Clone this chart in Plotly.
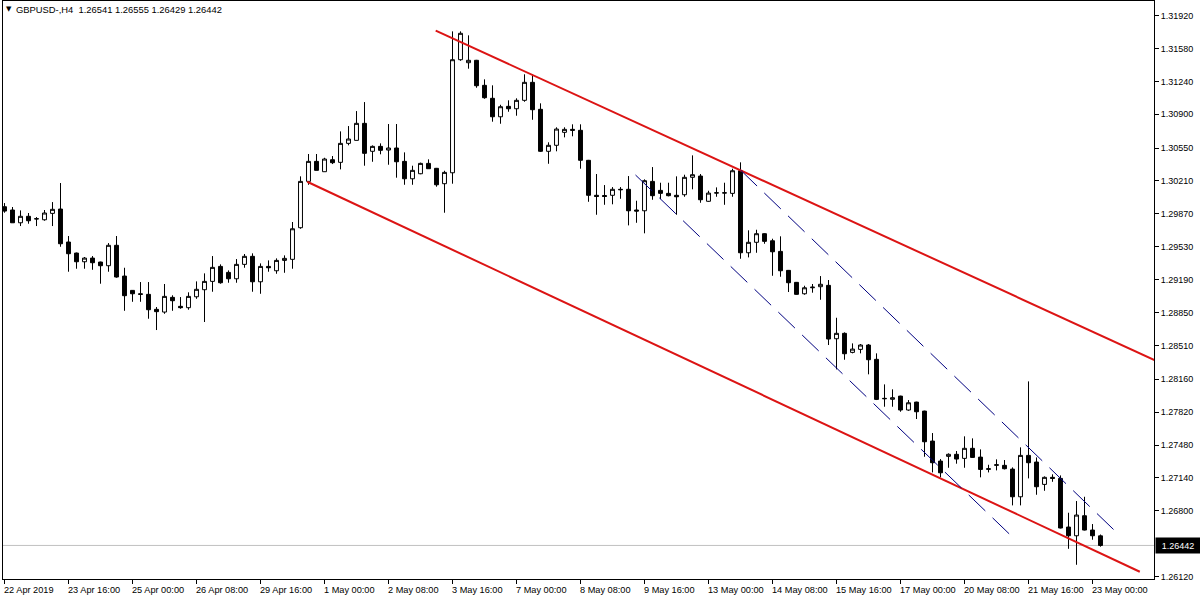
import plotly.graph_objects as go

# ---- H4 bars (bar index 0 = 22 Apr 2019 08:00) ----
bar_open = [
    1.29944, 1.29910, 1.29778, 1.29845, 1.29817, 1.29809, 1.29875, 1.29920, 1.29579, 1.29465,
    1.29375, 1.29413, 1.29372, 1.29334, 1.29545, 1.29227, 1.29079, 1.29044, 1.29038, 1.28883,
    1.28855, 1.29007, 1.28914, 1.28900, 1.29013, 1.29086, 1.29172, 1.29327, 1.29265, 1.29199,
    1.29348, 1.29431, 1.29168, 1.29327, 1.29282, 1.29389, 1.29400, 1.29727, 1.30206, 1.30413,
    1.30306, 1.30430, 1.30403, 1.30599, 1.30630, 1.30806, 1.30517, 1.30568, 1.30530, 1.30551,
    1.30413, 1.30233, 1.30285, 1.30392, 1.30341, 1.30182, 1.30295, 1.31464, 1.31433, 1.31458,
    1.31199, 1.31065, 1.30874, 1.30982, 1.30957, 1.31044, 1.31230, 1.30951, 1.30517, 1.30579,
    1.30713, 1.30744, 1.30734, 1.30424, 1.30062, 1.30060, 1.30062, 1.30124, 1.30124, 1.29910,
    1.29902, 1.30206, 1.30113, 1.30082, 1.30062, 1.30068, 1.30248, 1.30261, 1.30000, 1.30085,
    1.30085, 1.30082, 1.30316, 1.29468, 1.29576, 1.29665, 1.29592, 1.29482, 1.29286, 1.29162,
    1.29044, 1.29106, 1.29117, 1.29131, 1.28579, 1.28635, 1.28438, 1.28469, 1.28514, 1.28366,
    1.27958, 1.27953, 1.27986, 1.27842, 1.27924, 1.27831, 1.27521, 1.27314, 1.27363, 1.27384,
    1.27342, 1.27446, 1.27355, 1.27228, 1.27270, 1.27270, 1.27231, 1.26945, 1.27373, 1.27304,
    1.27073, 1.27146, 1.27135, 1.26632, 1.26542, 1.26749, 1.26601, 1.26541,
]
bar_high = [
    1.29982, 1.29941, 1.29906, 1.29879, 1.29837, 1.29910, 1.29992, 1.30189, 1.29641, 1.29470,
    1.29424, 1.29434, 1.29376, 1.29568, 1.29641, 1.29313, 1.29082, 1.29165, 1.29165, 1.28907,
    1.29145, 1.29028, 1.29010, 1.29059, 1.29172, 1.29255, 1.29434, 1.29348, 1.29286, 1.29403,
    1.29455, 1.29462, 1.29358, 1.29389, 1.29410, 1.29441, 1.29786, 1.30258, 1.30489, 1.30489,
    1.30450, 1.30468, 1.30723, 1.30778, 1.30933, 1.31026, 1.30578, 1.30599, 1.30799, 1.30799,
    1.30506, 1.30368, 1.30400, 1.30434, 1.30345, 1.30316, 1.31757, 1.31757, 1.31716, 1.31462,
    1.31261, 1.31199, 1.30998, 1.31044, 1.31065, 1.31313, 1.31313, 1.31013, 1.30610, 1.30765,
    1.30765, 1.30796, 1.30796, 1.30428, 1.30282, 1.30168, 1.30147, 1.30147, 1.30261, 1.30006,
    1.30227, 1.30354, 1.30192, 1.30192, 1.30258, 1.30275, 1.30475, 1.30282, 1.30109, 1.30144,
    1.30192, 1.30337, 1.30403, 1.29700, 1.29706, 1.29669, 1.29613, 1.29638, 1.29290, 1.29166,
    1.29127, 1.29145, 1.29227, 1.29186, 1.28796, 1.28645, 1.28531, 1.28524, 1.28524, 1.28428,
    1.28107, 1.28056, 1.27990, 1.27945, 1.27928, 1.27835, 1.27604, 1.27335, 1.27394, 1.27418,
    1.27570, 1.27549, 1.27435, 1.27276, 1.27332, 1.27325, 1.27249, 1.27456, 1.28138, 1.27352,
    1.27156, 1.27177, 1.27166, 1.26780, 1.26901, 1.26945, 1.26663, 1.26555,
]
bar_low = [
    1.29882, 1.29778, 1.29744, 1.29768, 1.29744, 1.29799, 1.29744, 1.29530, 1.29272, 1.29303,
    1.29303, 1.29292, 1.29148, 1.29272, 1.29210, 1.28868, 1.28961, 1.28961, 1.28786, 1.28669,
    1.28837, 1.28868, 1.28889, 1.28879, 1.28992, 1.28752, 1.29065, 1.29148, 1.29158, 1.29158,
    1.29313, 1.29065, 1.29044, 1.29272, 1.29251, 1.29261, 1.29303, 1.29716, 1.30171, 1.30320,
    1.30306, 1.30385, 1.30330, 1.30579, 1.30630, 1.30368, 1.30409, 1.30486, 1.30378, 1.30244,
    1.30171, 1.30171, 1.30280, 1.30337, 1.30151, 1.29882, 1.30182, 1.31453, 1.31371, 1.31174,
    1.31060, 1.30823, 1.30802, 1.30926, 1.30885, 1.31029, 1.30843, 1.30510, 1.30388, 1.30517,
    1.30661, 1.30672, 1.30337, 1.29995, 1.29861, 1.29964, 1.29969, 1.30026, 1.29751, 1.29778,
    1.29669, 1.30016, 1.30023, 1.30051, 1.29861, 1.30047, 1.30124, 1.29985, 1.29995, 1.30047,
    1.29964, 1.30047, 1.29406, 1.29420, 1.29468, 1.29561, 1.29230, 1.29220, 1.29062, 1.29034,
    1.29034, 1.29055, 1.28982, 1.28514, 1.28262, 1.28362, 1.28428, 1.28428, 1.28211, 1.27945,
    1.27876, 1.27876, 1.27824, 1.27834, 1.27749, 1.27359, 1.27197, 1.27146, 1.27245, 1.27287,
    1.27245, 1.27348, 1.27146, 1.27197, 1.27218, 1.27228, 1.26856, 1.26856, 1.27135, 1.26966,
    1.27007, 1.27100, 1.26618, 1.26407, 1.26242, 1.26597, 1.26501, 1.26429,
]
bar_close = [
    1.29899, 1.29778, 1.29845, 1.29799, 1.29820, 1.29879, 1.29917, 1.29561, 1.29458, 1.29375,
    1.29413, 1.29365, 1.29334, 1.29545, 1.29217, 1.29024, 1.29044, 1.29038, 1.28879, 1.28859,
    1.29017, 1.28972, 1.28900, 1.29017, 1.29090, 1.29172, 1.29317, 1.29158, 1.29199, 1.29348,
    1.29431, 1.29168, 1.29327, 1.29313, 1.29389, 1.29410, 1.29716, 1.30206, 1.30413, 1.30320,
    1.30437, 1.30399, 1.30599, 1.30644, 1.30806, 1.30496, 1.30568, 1.30527, 1.30551, 1.30409,
    1.30233, 1.30320, 1.30392, 1.30337, 1.30171, 1.30299, 1.31464, 1.31737, 1.31458, 1.31195,
    1.31071, 1.30874, 1.30978, 1.30957, 1.31044, 1.31230, 1.30947, 1.30517, 1.30579, 1.30747,
    1.30744, 1.30734, 1.30424, 1.30062, 1.30050, 1.30050, 1.30124, 1.30120, 1.29902, 1.29899,
    1.30213, 1.30058, 1.30082, 1.30058, 1.30047, 1.30248, 1.30275, 1.30016, 1.30085, 1.30088,
    1.30088, 1.30316, 1.29468, 1.29576, 1.29665, 1.29586, 1.29478, 1.29282, 1.29158, 1.29038,
    1.29106, 1.29112, 1.29142, 1.28576, 1.28635, 1.28424, 1.28472, 1.28514, 1.28362, 1.27952,
    1.27962, 1.27969, 1.27842, 1.27917, 1.27824, 1.27514, 1.27297, 1.27193, 1.27384, 1.27335,
    1.27446, 1.27352, 1.27228, 1.27235, 1.27276, 1.27235, 1.26945, 1.27373, 1.27297, 1.27049,
    1.27146, 1.27135, 1.26622, 1.26542, 1.26756, 1.26601, 1.26542, 1.26442,
]
bar_index = list(range(len(bar_open)))

# ---- time axis labels (every 8th bar) ----
time_tick_bars = list(range(0, 137, 8))
time_tick_labels = [
    "22 Apr 2019", "23 Apr 16:00", "25 Apr 00:00", "26 Apr 08:00", "29 Apr 16:00",
    "1 May 00:00", "2 May 08:00", "3 May 16:00", "7 May 00:00", "8 May 08:00",
    "9 May 16:00", "13 May 00:00", "14 May 08:00", "15 May 16:00", "17 May 00:00",
    "20 May 08:00", "21 May 16:00", "23 May 00:00",
]

# ---- price axis labels ----
price_tick_labels = [
    "1.31920", "1.31580", "1.31240", "1.30900", "1.30550", "1.30210", "1.29870",
    "1.29530", "1.29190", "1.28850", "1.28510", "1.28160", "1.27820", "1.27480",
    "1.27140", "1.26800", "1.26120",
]

# ---- drawn objects: (bar, price) anchor points ----
upper_red_bars = [53.9, 143.75]
upper_red_prices = [1.31765, 1.28359]
lower_red_bars = [37.84, 141.91]
lower_red_prices = [1.30202, 1.26170]
upper_blue_bars = [92.0, 138.79]
upper_blue_prices = [1.30323, 1.26594]
lower_blue_bars = [78.875, 125.75]
lower_blue_prices = [1.30272, 1.26549]

symbol_text = "GBPUSD-,H4"

# upper red line is a ray: extend it past the right edge
ray_end = 160.0
slope = (upper_red_prices[1] - upper_red_prices[0]) / (upper_red_bars[1] - upper_red_bars[0])
upper_red_x = [upper_red_bars[0], ray_end]
upper_red_y = [upper_red_prices[0], upper_red_prices[0] + slope * (ray_end - upper_red_bars[0])]

FONT = "Liberation Sans, Arial, sans-serif"
RED = "#DC1414"
NAVY = "#000080"

fig = go.Figure()

fig.add_trace(go.Candlestick(
    x=bar_index, open=bar_open, high=bar_high, low=bar_low, close=bar_close,
    increasing=dict(line=dict(color="black", width=1), fillcolor="white"),
    decreasing=dict(line=dict(color="black", width=1), fillcolor="black"),
    whiskerwidth=0, hoverinfo="skip", showlegend=False,
))

fig.add_trace(go.Scatter(x=upper_red_x, y=upper_red_y, mode="lines",
                         line=dict(color=RED, width=2), hoverinfo="skip", showlegend=False))
fig.add_trace(go.Scatter(x=lower_red_bars, y=lower_red_prices, mode="lines",
                         line=dict(color=RED, width=2), hoverinfo="skip", showlegend=False))
fig.add_trace(go.Scatter(x=upper_blue_bars, y=upper_blue_prices, mode="lines",
                         line=dict(color=NAVY, width=1, dash="23px,10px"),
                         hoverinfo="skip", showlegend=False))
fig.add_trace(go.Scatter(x=lower_blue_bars, y=lower_blue_prices, mode="lines",
                         line=dict(color=NAVY, width=1, dash="23px,10px"),
                         hoverinfo="skip", showlegend=False))

last_close = bar_close[-1]

# current price line
fig.add_shape(type="line", xref="paper", x0=0, x1=1, yref="y", y0=last_close, y1=last_close,
              line=dict(color="#C0C0C0", width=1), layer="below")

annotations = []
# time labels, left aligned at their tick
for b, lab in zip(time_tick_bars, time_tick_labels):
    annotations.append(dict(
        x=b, xref="x", y=0, yref="paper", text=lab, showarrow=False,
        xanchor="left", yanchor="middle", xshift=-2, yshift=-11, borderpad=0,
        font=dict(family=FONT, size=9.2, color="black"),
    ))

# current price label
annotations.append(dict(
    x=1, xref="paper", y=last_close, yref="y", text=f"{last_close:.5f}", showarrow=False,
    xanchor="left", yanchor="middle", xshift=1, bgcolor="black", borderpad=0,
    width=44, height=15, font=dict(family=FONT, size=9, color="white"),
))

# header
annotations.append(dict(
    x=0, xref="paper", y=1, yref="paper", text="\u25bc", showarrow=False,
    xanchor="center", yanchor="middle", xshift=5.5, yshift=-8, borderpad=0,
    font=dict(family="DejaVu Sans", size=7, color="black"),
))
header = "{}\u00a0\u00a0{:.5f} {:.5f} {:.5f} {:.5f}".format(
    symbol_text, bar_open[-1], bar_high[-1], bar_low[-1], bar_close[-1])
annotations.append(dict(
    x=0, xref="paper", y=1, yref="paper", text=header, showarrow=False,
    xanchor="left", yanchor="middle", xshift=12, yshift=-8, borderpad=0,
    font=dict(family=FONT, size=9.4, color="black"),
))

fig.update_layout(
    width=1200, height=600,
    margin=dict(l=3, r=46, t=1, b=21, pad=0),
    paper_bgcolor="white", plot_bgcolor="white",
    showlegend=False,
    annotations=annotations,
    xaxis=dict(
        range=[-0.1875, 143.6875], showgrid=False, zeroline=False,
        showline=True, mirror=True, linecolor="black", linewidth=1,
        ticks="outside", tickvals=time_tick_bars, ticklen=4, tickcolor="black",
        tickwidth=1, showticklabels=False, rangeslider=dict(visible=False),
        fixedrange=True,
    ),
    yaxis=dict(
        side="right", range=[1.260949, 1.320710], showgrid=False, zeroline=False,
        showline=True, mirror=True, linecolor="black", linewidth=1,
        ticks="outside", ticklen=4, tickcolor="black", tickwidth=1,
        tickvals=[float(t) for t in price_tick_labels], ticktext=price_tick_labels,
        tickfont=dict(family=FONT, size=9, color="black"), fixedrange=True,
    ),
)

fig.write_html(
    "out.html",
    config={"displayModeBar": False},
    post_script="document.body.style.margin='0';document.body.style.overflow='hidden';",
)
